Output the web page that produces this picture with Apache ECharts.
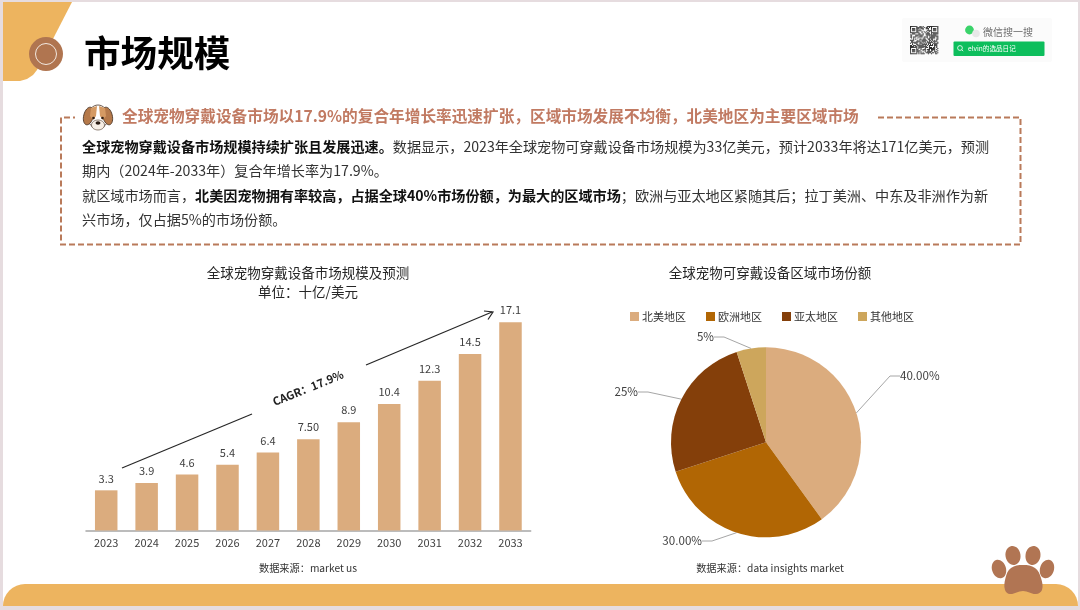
<!DOCTYPE html>
<html><head><meta charset="utf-8">
<style>html,body{margin:0;padding:0;background:#fff}#c{width:1080px;height:610px}</style>
<script src="https://cdn.jsdelivr.net/npm/echarts@6/dist/echarts.min.js"></script>
</head><body><div id="c"></div>
<script>
const years = ['2023','2024','2025','2026','2027','2028','2029','2030','2031','2032','2033'];
const marketSize = [3.3,3.9,4.6,5.4,6.4,7.5,8.9,10.4,12.3,14.5,17.1];
const marketLabels = ['3.3','3.9','4.6','5.4','6.4','7.50','8.9','10.4','12.3','14.5','17.1'];
const regions = ['北美地区','欧洲地区','亚太地区','其他地区'];
const shares = [40,30,25,5];
const shareLabels = ['40.00%','30.00%','25%','5%'];
const regionColors = ['#DBAC7E','#B16604','#843F0A','#CDA65C'];
const labelSpots = [
  {x:900,y:376,align:'left'},
  {x:702,y:541,align:'right'},
  {x:638,y:392,align:'right'},
  {x:714,y:337,align:'right'}
];

const FONT = '"Noto Sans CJK SC","Noto Sans",sans-serif';
const ORANGE = '#EDB45F', BROWN = '#B17553', DASH = '#B97A5A';
const txt = (x,y,text,size,color,extra) => ({type:'text',x,y,z:5,style:Object.assign({text,fontSize:size,fontFamily:FONT,fill:color,verticalAlign:'middle',textAlign:'left'},extra||{})});
const toe = (x,y,rx,ry,rot) => ({type:'ellipse',x,y,rotation:rot,z:6,shape:{cx:0,cy:0,rx,ry},style:{fill:BROWN}});

const bodyRich = {
  b:{fontFamily:FONT,fontSize:14.14,fontWeight:'bold',fill:'#111',lineHeight:20},
  r:{fontFamily:FONT,fontSize:14.14,fill:'#333',lineHeight:20}
};
const rich = (x,y,text) => ({type:'text',x,y,z:5,style:{text,rich:bodyRich,fontFamily:FONT,fontSize:14.14,fill:'#333',verticalAlign:'middle'}});

// QR decoration
function qr(x0,y0,n,m){
  const out=[]; const finder=(i,j,a,b)=>{const di=i-a,dj=j-b;if(di<0||dj<0||di>6||dj>6)return null;return (di===0||di===6||dj===0||dj===6||(di>=2&&di<=4&&dj>=2&&dj<=4));};
  for(let j=0;j<n;j++)for(let i=0;i<n;i++){
    let f=finder(i,j,0,0); if(f===null)f=finder(i,j,n-7,0); if(f===null)f=finder(i,j,0,n-7);
    const h=((i*73+j*151+i*j*29)^(i*i*7+j*j*13))%5;
    const on=f===null?(h<3):f;
    if(on)out.push({type:'rect',z:5,shape:{x:x0+i*m,y:y0+j*m,width:m,height:m},style:{fill:'#2a2a2a'}});
  }
  return out;
}

const graphics = [
  {type:'rect',z:0,shape:{x:0,y:0,width:1080,height:610},style:{fill:'#E6DCDF'}},
  {type:'rect',z:0,shape:{x:3,y:2,width:1075,height:604},style:{fill:'#fff'}},
  // corner shape
  {type:'polygon',z:1,shape:{points:[[3,2],[72,2],[37,70],[33,75],[27,79],[20,81],[3,81]]},style:{fill:ORANGE}},
  {type:'circle',z:2,shape:{cx:46,cy:54,r:17},style:{fill:'#B07550'}},
  {type:'circle',z:3,shape:{cx:46,cy:54,r:10.5},style:{fill:'transparent',stroke:'#F2E8E0',lineWidth:1}},
  // bottom band
  {type:'rect',z:1,shape:{x:3,y:584,width:1075,height:22,r:[22,22,0,0]},style:{fill:ORANGE}},
  // title
  {type:'text',x:84,y:53,z:5,style:{text:'市场规模',fontFamily:FONT,fontSize:36.6,fontWeight:'bold',fill:'#000',verticalAlign:'middle'}},
  // dashed box
  {type:'polyline',z:2,shape:{points:[[878,117.5],[1020.5,117.5],[1020.5,244.5],[61,244.5],[61,117.5],[75,117.5]]},style:{fill:null,stroke:DASH,lineWidth:2,lineDash:[6,3]}},
  // heading
  {type:'text',x:122,y:116,z:5,style:{text:'全球宠物穿戴设备市场以17.9%的复合年增长率迅速扩张，区域市场发展不均衡，北美地区为主要区域市场',fontFamily:FONT,fontSize:15.67,fontWeight:'bold',fill:'#C17A62',verticalAlign:'middle'}},
  rich(82,147,'{b|全球宠物穿戴设备市场规模持续扩张且发展迅速。}{r|数据显示，2023年全球宠物可穿戴设备市场规模为33亿美元，预计2033年将达171亿美元，预测}'),
  rich(82,171,'{r|期内（2024年-2033年）复合年增长率为17.9%。}'),
  rich(82,196,'{r|就区域市场而言，}{b|北美因宠物拥有率较高，占据全球40%市场份额，为最大的区域市场}{r|；欧洲与亚太地区紧随其后；拉丁美洲、中东及非洲作为新}'),
  rich(82,220,'{r|兴市场，仅占据5%的市场份额。}'),
  // dog
  {type:'ellipse',z:4,shape:{cx:98,cy:117,rx:10,ry:12},style:{fill:'#fff',stroke:'#4a3527',lineWidth:0.8}},
  {type:'ellipse',x:88.5,y:116,rotation:-0.25,z:5,shape:{cx:0,cy:0,rx:4.8,ry:9},style:{fill:'#B5794A',stroke:'#4a3527',lineWidth:0.8}},
  {type:'ellipse',x:107.5,y:116,rotation:0.25,z:5,shape:{cx:0,cy:0,rx:4.8,ry:9},style:{fill:'#B5794A',stroke:'#4a3527',lineWidth:0.8}},
  {type:'polygon',z:5,shape:{points:[[97,106],[91,108],[90,116],[93,120],[96,116]]},style:{fill:'#D59A63'}},
  {type:'polygon',z:5,shape:{points:[[99,106],[105,108],[106,116],[103,120],[100,116]]},style:{fill:'#D59A63'}},
  {type:'ellipse',z:5,shape:{cx:98,cy:125,rx:6.5,ry:5},style:{fill:'#F7EFE6',stroke:'#4a3527',lineWidth:0.6}},
  {type:'circle',z:6,shape:{cx:93.5,cy:118,r:1.3},style:{fill:'#2b1c12'}},
  {type:'circle',z:6,shape:{cx:102.5,cy:118,r:1.3},style:{fill:'#2b1c12'}},
  {type:'ellipse',z:6,shape:{cx:98,cy:123,rx:2.4,ry:1.7},style:{fill:'#2b1c12'}},
  // wechat card
  {type:'rect',z:1,shape:{x:902,y:18,width:150,height:44,r:2},style:{fill:'#FBFBFB'}},
  ...qr(910,26,27,1.05),
  {type:'circle',z:5,shape:{cx:969.5,cy:30,r:4.4},style:{fill:'#3AD36A'}},
  {type:'circle',z:6,shape:{cx:976,cy:33.5,r:3.8},style:{fill:'#E8E8E8'}},
  txt(983,32,'微信搜一搜',10,'#6f6f6f'),
  {type:'rect',z:4,shape:{x:953.5,y:41.5,width:91,height:14.5,r:1},style:{fill:'#0DBE5C'}},
  {type:'circle',z:5,shape:{cx:960,cy:48,r:2.4},style:{fill:'transparent',stroke:'#fff',lineWidth:0.8}},
  {type:'line',z:5,shape:{x1:961.7,y1:49.7,x2:963.2,y2:51.2},style:{stroke:'#fff',lineWidth:0.8}},
  txt(968,48.5,'elvin的选品日记',6.6,'#fff'),
  // CAGR arrows
  {type:'line',z:6,shape:{x1:122,y1:468,x2:252,y2:414},style:{stroke:'#262626',lineWidth:1.2}},
  {type:'line',z:6,shape:{x1:366,y1:365,x2:492,y2:312},style:{stroke:'#262626',lineWidth:1.2}},
  {type:'polyline',z:6,shape:{points:[[484,311],[493,312],[488,319.5]]},style:{fill:null,stroke:'#262626',lineWidth:1.2}},
  {type:'text',x:308,y:388,rotation:22*Math.PI/180,z:6,style:{text:'CAGR：17.9%',fontFamily:FONT,fontSize:11.2,fontWeight:'bold',fill:'#222',textAlign:'center',verticalAlign:'middle'}},
  // paw
  toe(999,569,7,9.5,0.3), toe(1013,555.5,7.5,9.5,0.15), toe(1033,555.5,7.5,9.5,-0.15), toe(1047,569,7,9.5,-0.3),
  {type:'polygon',z:6,shape:{smooth:0.4,points:[[1023,565],[1035,568],[1041,578],[1042,590],[1036,594],[1023,591],[1010,594],[1005,590],[1005.5,578],[1011,568]]},style:{fill:BROWN}}
];

const titleStyle = {fontFamily:FONT,fontSize:13.5,fontWeight:'normal',color:'#262626'};
const srcStyle = {fontFamily:FONT,fontSize:10.2,fontWeight:'normal',color:'#333'};
const option = {
  animation:false,
  backgroundColor:'#fff',
  textStyle:{fontFamily:FONT},
  title:[
    {text:'全球宠物穿戴设备市场规模及预测',left:308,top:266,textAlign:'center',textStyle:titleStyle,padding:0},
    {text:'单位：十亿/美元',left:308,top:285,textAlign:'center',textStyle:titleStyle,padding:0},
    {text:'全球宠物可穿戴设备区域市场份额',left:770,top:266,textAlign:'center',textStyle:titleStyle,padding:0},
    {text:'数据来源：market us',left:308,top:563,textAlign:'center',textStyle:srcStyle,padding:0},
    {text:'数据来源：data insights market',left:770,top:563,textAlign:'center',textStyle:srcStyle,padding:0}
  ],
  legend:{data:regions,left:630,top:311,padding:0,itemWidth:9,itemHeight:9,itemGap:20,icon:'rect',
    textStyle:{fontFamily:FONT,fontSize:11,color:'#333',padding:[0,0,0,-2]}},
  grid:{left:86,top:287,width:444.7,height:243.5},
  xAxis:{type:'category',data:years,axisTick:{show:false},
    axisLine:{lineStyle:{color:'#A6A6A6',width:1.5}},
    axisLabel:{fontFamily:FONT,fontSize:11,color:'#404040',margin:7}},
  yAxis:{type:'value',min:0,max:20,show:false},
  series:[
    {type:'bar',data:marketSize,barWidth:22.5,itemStyle:{color:'#DBAC7E'},
      label:{show:true,position:'top',distance:6.5,fontFamily:FONT,fontSize:11,color:'#404040',
        formatter:p=>marketLabels[p.dataIndex]}},
    {type:'pie',center:[766,442.3],radius:[0,95],startAngle:90,clockwise:true,
      data:regions.map((name,i)=>({name,value:shares[i],itemStyle:{color:regionColors[i]}})),
      itemStyle:{borderWidth:0},
      label:{show:true,position:'outside',fontFamily:FONT,fontSize:11.6,color:'#404040',
        formatter:p=>shareLabels[p.dataIndex]},
      labelLine:{show:true,length:30,length2:10,lineStyle:{color:'#A6A6A6',width:1}},
      labelLayout:p=>({x:labelSpots[p.dataIndex].x,y:labelSpots[p.dataIndex].y,align:labelSpots[p.dataIndex].align,verticalAlign:'middle'})
    }
  ],
  graphic:{elements:graphics}
};
echarts.init(document.getElementById('c')).setOption(option);
</script></body></html>
